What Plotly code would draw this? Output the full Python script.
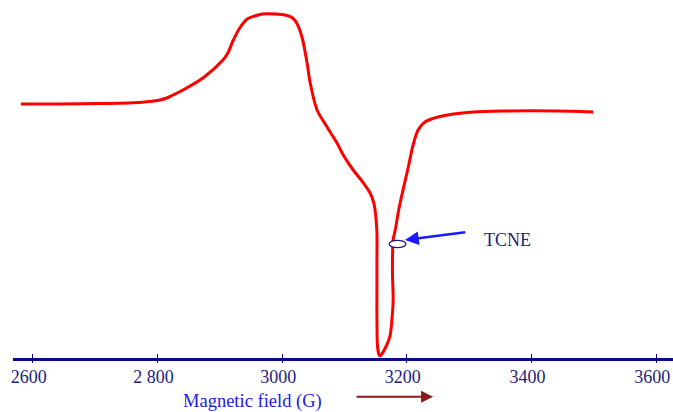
import plotly.graph_objects as go

# Magnetic field (G) and signal (arbitrary units)
field = [2581, 2644, 2708, 2761, 2788, 2804, 2815, 2825, 2841, 2873, 2905, 2913,
         2921, 2932, 2944, 2956, 2968, 2989, 3005, 3017, 3025, 3033, 3040, 3045,
         3056, 3072, 3088, 3098, 3114, 3128, 3141, 3147, 3150, 3152, 3152, 3152,
         3152, 3153, 3155, 3157, 3160, 3167, 3173, 3176, 3178, 3177, 3177, 3178,
         3182, 3186, 3192, 3202, 3210, 3218, 3229, 3253, 3306, 3361, 3441, 3499]
signal = [254, 254, 254.5, 255.3, 256.5, 258, 260, 263, 268, 280, 298, 305,
          317, 330, 339, 342, 344, 344, 343, 340, 333, 318, 295, 275,
          248, 231, 215, 203, 188, 177, 165, 155, 143, 125, 98, 65,
          38, 11, 4, 2, 4, 12, 22, 38, 58, 83, 100, 118,
          130, 145, 163, 190, 213, 228, 236, 241.5, 246, 247, 247, 246]

tick_vals = [2600, 2800, 3000, 3200, 3400, 3600]
tick_text = ["2600", "2 800", "3000", "3200", "3400", "3600"]

x_title = "Magnetic field (G)"
tcne_label = "TCNE"
tcne_field = 3185
tcne_signal = 114
arrow_tip = (3197, 118)
arrow_tail = (3296, 126)

NAVY = "#0a0a8c"
LABEL = "#23237a"
SERIF = "Liberation Serif, Times New Roman, serif"

fig = go.Figure()
fig.add_trace(go.Scatter(x=field, y=signal, mode="lines",
                         line=dict(color="#ff0000", width=3, shape="spline", smoothing=0.8),
                         hoverinfo="skip", showlegend=False))
# dummy trace for the overlaying axis (outside ticks)
fig.add_trace(go.Scatter(x=[tick_vals[0]], y=[0], xaxis="x2", mode="markers",
                         marker=dict(opacity=0), hoverinfo="skip", showlegend=False))

xr = [2568.4, 3626.8]
fig.update_layout(
    width=673, height=412,
    margin=dict(l=13, r=0, t=2, b=54),
    paper_bgcolor="white", plot_bgcolor="white",
    xaxis=dict(range=xr, showgrid=False, zeroline=False, showline=True, automargin=False,
               linecolor=NAVY, linewidth=3, ticks="inside", ticklen=4, tickwidth=1,
               tickcolor=NAVY, tickvals=tick_vals, ticktext=tick_text,
               ticklabeloverflow="allow", ticklabelshift=-4,
               tickfont=dict(family=SERIF, size=18, color=LABEL)),
    xaxis2=dict(range=xr, overlaying="x", showgrid=False, zeroline=False, showline=False,
                automargin=False, ticks="outside", ticklen=4, tickwidth=1, tickcolor=NAVY,
                tickvals=tick_vals, showticklabels=False, side="bottom", anchor="y"),
    yaxis=dict(range=[0, 356], visible=False, showgrid=False, zeroline=False,
               automargin=False),
)

# ellipse marking the TCNE reference signal
fig.add_shape(type="circle", xref="x", yref="y",
              x0=tcne_field - 13.4, x1=tcne_field + 13.4,
              y0=tcne_signal - 3.7, y1=tcne_signal + 3.7,
              line=dict(color="#1a1a80", width=1.3), fillcolor="white", layer="above")

fig.add_annotation(x=arrow_tip[0], y=arrow_tip[1], ax=arrow_tail[0], ay=arrow_tail[1],
                   xref="x", yref="y", axref="x", ayref="y", text="", showarrow=True,
                   arrowhead=2, arrowsize=1.1, arrowwidth=2.5, arrowcolor="#1a1aff")
fig.add_annotation(x=3361, y=118, xref="x", yref="y", text=tcne_label, showarrow=False,
                   font=dict(family=SERIF, size=18, color=LABEL))

fig.add_annotation(x=2953, y=-0.1228, xref="x", yref="paper", text=x_title,
                   yanchor="middle", showarrow=False,
                   font=dict(family=SERIF, size=18.5, color="#2020e6"))
fig.add_annotation(x=3242, y=-0.1087, xref="x", yref="paper", ax=-78, ay=0, text="",
                   showarrow=True, arrowhead=2, arrowsize=1.2, arrowwidth=2,
                   arrowcolor="#8b1a1a")

fig.write_html("out.html", config={"displayModeBar": False},
               post_script="document.body.style.margin='0px';document.body.style.overflow='hidden';")
